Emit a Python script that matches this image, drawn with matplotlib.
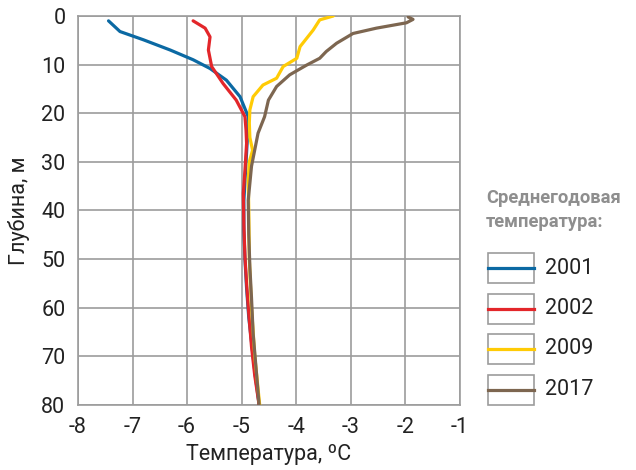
import matplotlib.pyplot as plt
from matplotlib import font_manager
from matplotlib.patches import Rectangle
from matplotlib.lines import Line2D

names = {f.name for f in font_manager.fontManager.ttflist}
font = 'Liberation Sans Narrow' if 'Liberation Sans Narrow' in names else 'Roboto'
plt.rcParams['font.family'] = [font, 'DejaVu Sans']
plt.rcParams['axes.unicode_minus'] = False

years = ['2001', '2002', '2009', '2017']
colors = ['#0b69a3', '#e3262a', '#ffcb05', '#7d6650']

# temperature (°C) vs depth (m)
depth_2001 = [1.0, 3.2, 4.9, 7.0, 9.0, 10.8, 13.2, 16.6, 20.7, 26, 32, 38, 44, 50, 56, 62, 68, 74, 80]
temp_2001 = [-7.44, -7.23, -6.80, -6.31, -5.89, -5.58, -5.28, -5.03, -4.88, -4.90, -4.93, -4.96, -4.96, -4.94, -4.91, -4.87, -4.81, -4.75, -4.68]

depth_2002 = [1.0, 2.5, 4.3, 7.0, 10.4, 13.9, 17.3, 20.7, 23.5, 26.2, 31.7, 36.5, 43, 49.5, 55, 59.8, 68, 74, 80]
temp_2002 = [-5.89, -5.67, -5.58, -5.61, -5.55, -5.34, -5.10, -4.94, -4.92, -4.91, -4.94, -4.97, -4.96, -4.94, -4.91, -4.88, -4.82, -4.76, -4.68]

depth_2009 = [0.0, 0.8, 2.9, 6.3, 8.7, 10.4, 12.8, 14.2, 16.6, 19.3, 22, 25, 27.6, 30, 33.7, 40, 50, 60, 70, 80]
temp_2009 = [-3.32, -3.57, -3.69, -3.93, -3.99, -4.24, -4.36, -4.61, -4.79, -4.85, -4.86, -4.85, -4.80, -4.86, -4.88, -4.87, -4.86, -4.82, -4.76, -4.67]

depth_2017 = [0.2, 0.7, 1.4, 2.5, 3.6, 5.6, 7.3, 8.7, 10.1, 12.1, 14.5, 17.3, 20.7, 24.1, 27.5, 30.9, 37.9, 45, 51.6, 58, 65.3, 72, 80]
temp_2017 = [-1.95, -1.86, -1.98, -2.53, -2.96, -3.26, -3.45, -3.57, -3.81, -4.12, -4.36, -4.51, -4.58, -4.70, -4.76, -4.82, -4.88, -4.87, -4.85, -4.82, -4.79, -4.74, -4.68]

series = [(temp_2001, depth_2001), (temp_2002, depth_2002),
          (temp_2009, depth_2009), (temp_2017, depth_2017)]

fig = plt.figure(figsize=(6.36, 4.70), dpi=100)
ax = fig.add_axes([0.1226, 0.1383, 0.6006, 0.8277])

grid_color = '#9c9c9c'
for (t, d), c in zip(series, colors):
    ax.plot(t, d, color=c, lw=2.3, solid_capstyle='round', zorder=3)

ax.set_xlim(-8, -1)
ax.set_ylim(80, 0)
ax.set_xticks(range(-8, 0))
ax.set_yticks(range(0, 81, 10))
ax.grid(True, color=grid_color, lw=1.2)
ax.set_axisbelow(True)
for s in ax.spines.values():
    s.set_color(grid_color)
    s.set_linewidth(1.2)
ax.tick_params(length=0, labelsize=15.5, colors='#222222')
ax.tick_params(axis='x', pad=9)
ax.tick_params(axis='y', pad=9)
ax.set_xlabel('Температура, ºC', fontsize=15.5, color='#222222', labelpad=4)
ax.set_ylabel('Глубина, м', fontsize=15.5, color='#222222', labelpad=8)

# legend
W, H = 636.0, 470.0
fig.text(486 / W, 1 - 210 / H, 'Среднегодовая\nтемпература:', fontsize=13.2,
         fontweight='bold', color='#8e8e8e', va='center', ha='left', linespacing=1.45)
for i, (yr, c) in enumerate(zip(years, colors)):
    yc = 268 + i * 40.5
    fig.add_artist(Rectangle((488 / W, 1 - (yc + 15) / H), 46 / W, 30 / H,
                             transform=fig.transFigure, facecolor='white',
                             edgecolor=grid_color, lw=1.2))
    fig.add_artist(Line2D([488 / W, 534 / W], [1 - yc / H, 1 - yc / H],
                          transform=fig.transFigure, color=c, lw=2.3))
    fig.text(545 / W, 1 - yc / H, yr, fontsize=15.5, color='#222222', va='center', ha='left')

fig.savefig('out.png', dpi=100)
